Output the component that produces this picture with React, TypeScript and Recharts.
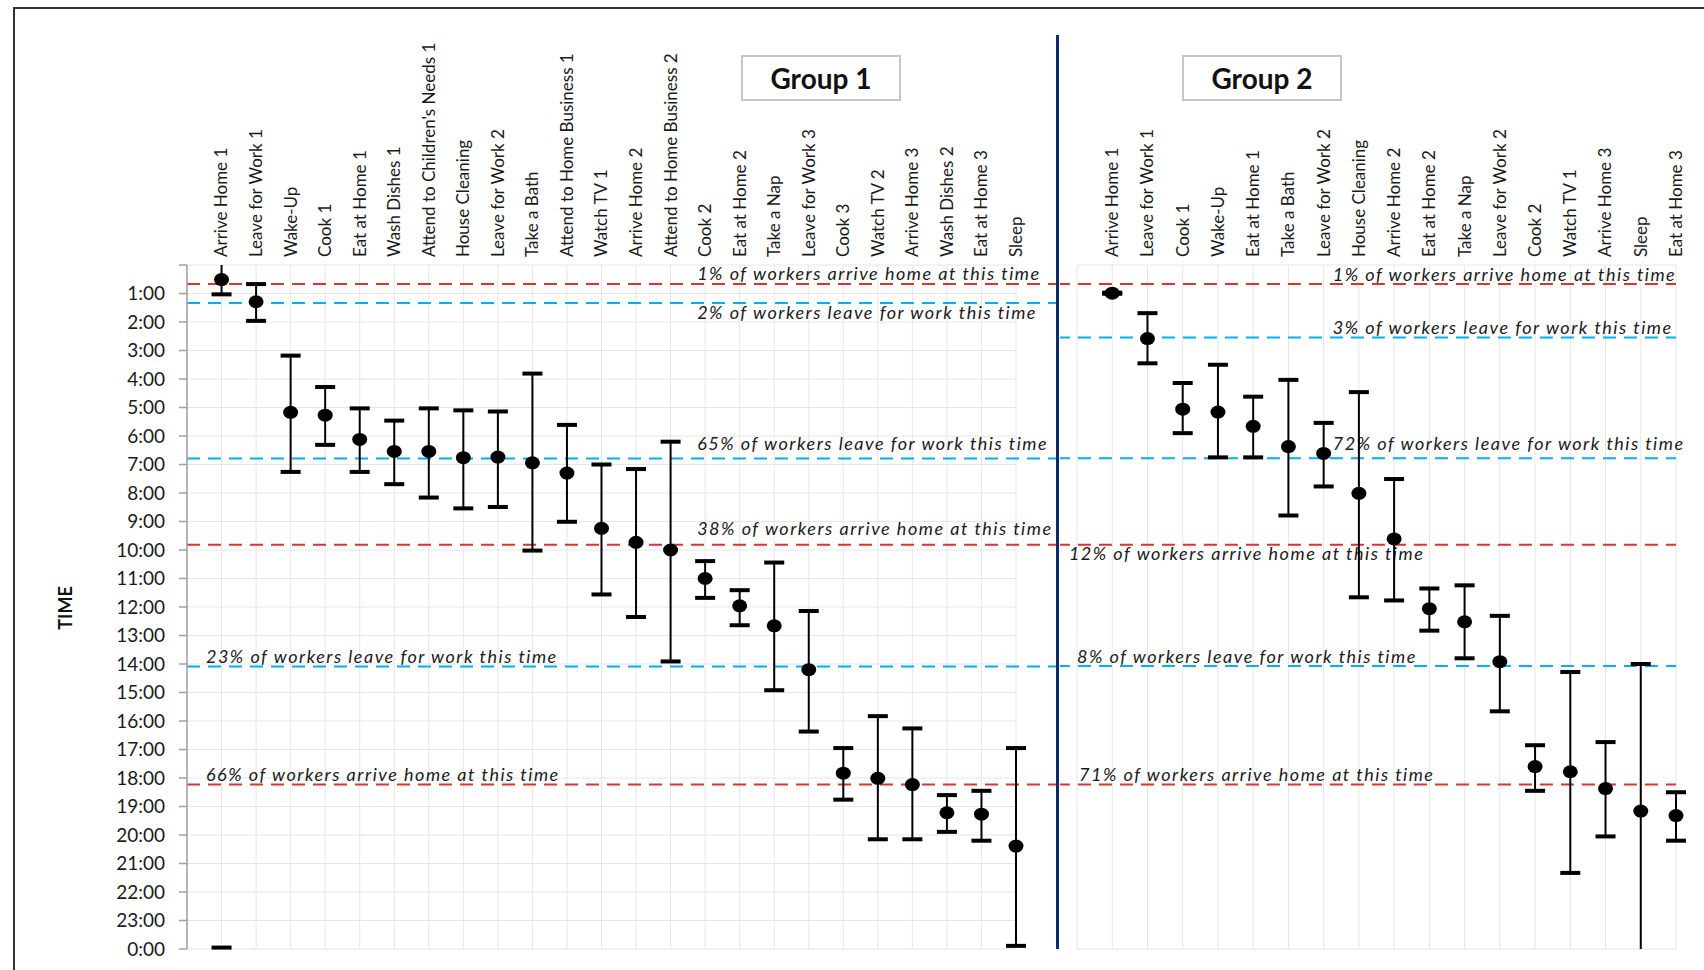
import React from 'react';
import { ComposedChart, Scatter, ErrorBar, XAxis, YAxis, CartesianGrid, ReferenceLine } from 'recharts';

// ---- data (hours after midnight) ----
const group1Names = [
  'Arrive Home 1', 'Leave for Work 1', 'Wake-Up', 'Cook 1', 'Eat at Home 1', 'Wash Dishes 1',
  "Attend to Children's Needs 1", 'House Cleaning', 'Leave for Work 2', 'Take a Bath',
  'Attend to Home Business 1', 'Watch TV 1', 'Arrive Home 2', 'Attend to Home Business 2',
  'Cook 2', 'Eat at Home 2', 'Take a Nap', 'Leave for Work 3', 'Cook 3', 'Watch TV 2',
  'Arrive Home 3', 'Wash Dishes 2', 'Eat at Home 3', 'Sleep',
];
const group1Low = [0, 0.67, 3.18, 4.28, 5.03, 5.46, 5.03, 5.1, 5.14, 3.81, 5.61, 7.0, 7.16, 6.2,
  10.39, 11.41, 10.44, 12.14, 16.95, 15.83, 16.26, 18.6, 18.45, 16.95];
const group1Mean = [0.51, 1.29, 5.17, 5.27, 6.12, 6.54, 6.54, 6.76, 6.74, 6.94, 7.3, 9.24, 9.73, 10.0,
  11.0, 11.96, 12.66, 14.2, 17.83, 18.01, 18.23, 19.22, 19.27, 20.39];
const group1High = [1.03, 1.96, 7.26, 6.31, 7.26, 7.69, 8.16, 8.54, 8.49, 10.02, 9.01, 11.56, 12.35, 13.91,
  11.68, 12.64, 14.92, 16.37, 18.76, 20.15, 20.15, 19.89, 20.2, 23.89];
// where the end caps sit (null = no cap). Arrive Home 1 wraps round midnight.
const group1LowCap = [23.95, 0.67, 3.18, 4.28, 5.03, 5.46, 5.03, 5.1, 5.14, 3.81, 5.61, 7.0, 7.16, 6.2,
  10.39, 11.41, 10.44, 12.14, 16.95, 15.83, 16.26, 18.6, 18.45, 16.95];
const group1HighCap = group1High;

const group2Names = [
  'Arrive Home 1', 'Leave for Work 1', 'Cook 1', 'Wake-Up', 'Eat at Home 1', 'Take a Bath',
  'Leave for Work 2', 'House Cleaning', 'Arrive Home 2', 'Eat at Home 2', 'Take a Nap',
  'Leave for Work 2', 'Cook 2', 'Watch TV 1', 'Arrive Home 3', 'Sleep', 'Eat at Home 3',
];
const group2Low = [0.97, 1.69, 4.14, 3.5, 4.62, 4.03, 5.54, 4.46, 7.51, 11.35, 11.24, 12.31, 16.85, 14.28, 16.74, 14.0, 18.5];
const group2Mean = [0.99, 2.58, 5.06, 5.16, 5.66, 6.37, 6.61, 8.01, 9.61, 12.06, 12.52, 13.92, 17.6, 17.78, 18.37, 19.16, 19.32];
const group2High = [1.01, 3.45, 5.9, 6.75, 6.75, 8.79, 7.77, 11.66, 11.77, 12.83, 13.8, 15.66, 18.45, 21.33, 20.05, 24, 20.2];
const group2LowCap = group2Low;
const group2HighCap = [1.01, 3.45, 5.9, 6.75, 6.75, 8.79, 7.77, 11.66, 11.77, 12.83, 13.8, 15.66, 18.45, 21.33, 20.05, null, 20.2];

const hourTicks = [0, 1, 2, 3, 4, 5, 6, 7, 8, 9, 10, 11, 12, 13, 14, 15, 16, 17, 18, 19, 20, 21, 22, 23, 24];

// reference lines
const group1NoteY = [0.67, 1.33, 6.79, 9.82, 14.09, 18.23];
const group1NoteKind = ['arrive', 'leave', 'leave', 'arrive', 'leave', 'arrive'];
const group1NoteText = [
  '1% of workers arrive home at this time',
  '2% of workers leave for work this time',
  '65% of workers leave for work this time',
  '38% of workers arrive home at this time',
  '23% of workers leave for work this time',
  '66% of workers arrive home at this time',
];
const group2NoteY = [0.67, 2.54, 6.78, 9.82, 14.07, 18.23];
const group2NoteKind = ['arrive', 'leave', 'leave', 'arrive', 'leave', 'arrive'];
const group2NoteText = [
  '1% of workers arrive home at this time',
  '3% of workers leave for work this time',
  '72% of workers leave for work this time',
  '12% of workers arrive home at this time',
  '8% of workers leave for work this time',
  '71% of workers arrive home at this time',
];

// ---- layout ----
const g1Place = [[14.77, -4], [14.77, 16], [14.77, -9], [14.77, -10], [0.55, -4], [0.55, -4]];
const g2Place = [[7.26, -3], [7.26, -3], [7.26, -8.5], [-0.23, 15.5], [0, -2.5], [0.06, -4]];
const CHART_H = 970;
const FONT = 'Lato, "Open Sans", sans-serif';
const lineColor: Record<string, string> = { arrive: '#e03131', leave: '#00b0f0' };

const buildRows = (low: number[], mean: number[], high: number[]) =>
  mean.map((m, i) => ({ x: i + 1, mean: m, errs: [m - low[i], high[i] - m] }));

const buildCaps = (lowCap: (number | null)[], highCap: (number | null)[]) => {
  const out: { x: number; y: number }[] = [];
  lowCap.forEach((v, i) => { if (v !== null) out.push({ x: i + 1, y: v }); });
  highCap.forEach((v, i) => { if (v !== null) out.push({ x: i + 1, y: v }); });
  return out;
};

const dotShape = (p: any) => <ellipse cx={p.cx} cy={p.cy} rx={7.5} ry={6.5} fill="#000" />;
const capShape = (p: any) => <rect x={p.cx - 10} y={p.cy - 2} width={20} height={4} fill="#000" />;

const makeTick = (names: string[]) => (p: any) => {
  const v = p.payload.value;
  if (v === 0) return <g />;
  return (
    <text x={p.x} y={p.y} transform={`rotate(-90 ${p.x} ${p.y})`} textAnchor="start" dy="0.35em"
      fontSize={17} fontFamily={FONT} fill="#1a1a1a">
      {names[v - 1]}
    </text>
  );
};

const makeNote = (text: string, frac: number, dy: number) => (p: any) => {
  const vb = p.viewBox;
  return (
    <text x={vb.x + frac * vb.width} y={vb.y + dy} fontSize={18} fontStyle="italic" letterSpacing={1.5}
      fontFamily={FONT} fill="#1a1a1a">
      {text}
    </text>
  );
};

interface PanelProps {
  names: string[];
  low: number[]; mean: number[]; high: number[];
  lowCap: (number | null)[]; highCap: (number | null)[];
  noteY: number[]; noteKind: string[]; noteText: string[]; place: number[][];
  width: number; margin: any; showAxis: boolean; lineFrom: number; lineTo: number;
}

const Panel = (props: PanelProps) => {
  const rows = buildRows(props.low, props.mean, props.high);
  const caps = buildCaps(props.lowCap, props.highCap);
  const n = props.names.length;
  const xTicks = hourTicks.slice(0, n + 1);
  return (
    <ComposedChart width={props.width} height={CHART_H} margin={props.margin}>
      <CartesianGrid stroke="#e6e6e6" strokeWidth={1} />
      <XAxis type="number" dataKey="x" orientation="top" domain={[0, n]} ticks={xTicks} interval={0}
        height={230} axisLine={false} tickLine={false} tickSize={0} tickMargin={8}
        tick={makeTick(props.names)} />
      {props.showAxis ? (
        <YAxis type="number" domain={[0, 24]} reversed ticks={hourTicks} interval={0} width={60}
          tickFormatter={(v: number) => (v === 0 ? '' : `${v % 24}:00`)}
          tickSize={8} tickMargin={14}
          tick={{ fontSize: 19, fill: '#1a1a1a', fontFamily: FONT }}
          axisLine={{ stroke: '#a0a0a0', strokeWidth: 1.5 }} tickLine={{ stroke: '#a0a0a0', strokeWidth: 1.5 }} />
      ) : (
        <YAxis type="number" domain={[0, 24]} reversed ticks={hourTicks} interval={0} width={0}
          tick={false} axisLine={false} tickLine={false} />
      )}
      {props.noteY.map((y, i) => (
        <ReferenceLine key={`n${i}`} segment={[{ x: props.lineFrom, y }, { x: props.lineTo, y }]}
          stroke={lineColor[props.noteKind[i]]} strokeWidth={2} strokeDasharray="13 8" ifOverflow="visible"
          label={makeNote(props.noteText[i], (props.place[i][0] - props.lineFrom) / (props.lineTo - props.lineFrom), props.place[i][1])} />
      ))}
      <Scatter data={rows} dataKey="mean" isAnimationActive={false} shape={dotShape}>
        <ErrorBar dataKey="errs" direction="y" width={0} stroke="#000" strokeWidth={2} isAnimationActive={false} />
      </Scatter>
      <Scatter data={caps} dataKey="y" isAnimationActive={false} shape={capShape} />
    </ComposedChart>
  );
};

const boxStyle: React.CSSProperties = {
  position: 'absolute', top: 55, width: 156, height: 42, border: '2px solid #c6c6c6', background: '#fff',
  display: 'flex', alignItems: 'center', justifyContent: 'center',
  fontFamily: FONT, fontWeight: 700, fontSize: 28, color: '#111',
};

export default function App() {
  return (
    <div style={{ position: 'absolute', left: 0, top: 0, width: 1704, height: 970, overflow: 'hidden', background: '#fff' }}>
      <div style={{ position: 'absolute', left: 13, top: 7, width: 1720, height: 1000, borderTop: '2px solid #333', borderLeft: '2px solid #333' }} />
      <div style={{ position: 'absolute', left: 0, top: 0 }}>
        <Panel names={group1Names} low={group1Low} mean={group1Mean} high={group1High}
          lowCap={group1LowCap} highCap={group1HighCap}
          noteY={group1NoteY} noteKind={group1NoteKind} noteText={group1NoteText} place={g1Place}
          width={1060} margin={{ top: 35, right: 44, bottom: 21, left: 127 }} showAxis
          lineFrom={0} lineTo={25.19} />
      </div>
      <div style={{ position: 'absolute', left: 1060, top: 0 }}>
        <Panel names={group2Names} low={group2Low} mean={group2Mean} high={group2High}
          lowCap={group2LowCap} highCap={group2HighCap}
          noteY={group2NoteY} noteKind={group2NoteKind} noteText={group2NoteText} place={g2Place}
          width={644} margin={{ top: 35, right: 28, bottom: 21, left: 17 }} showAxis={false}
          lineFrom={-0.57} lineTo={17} />
      </div>
      <div style={{ position: 'absolute', left: 1056, top: 35, width: 3, height: 914, background: '#10296b' }} />
      <div style={{ ...boxStyle, left: 741 }}>Group 1</div>
      <div style={{ ...boxStyle, left: 1182 }}>Group 2</div>
      <div style={{ position: 'absolute', left: 65, top: 608, transform: 'translate(-50%, -50%) rotate(-90deg)',
        fontFamily: FONT, fontWeight: 700, fontSize: 18, color: '#111' }}>TIME</div>
    </div>
  );
}
